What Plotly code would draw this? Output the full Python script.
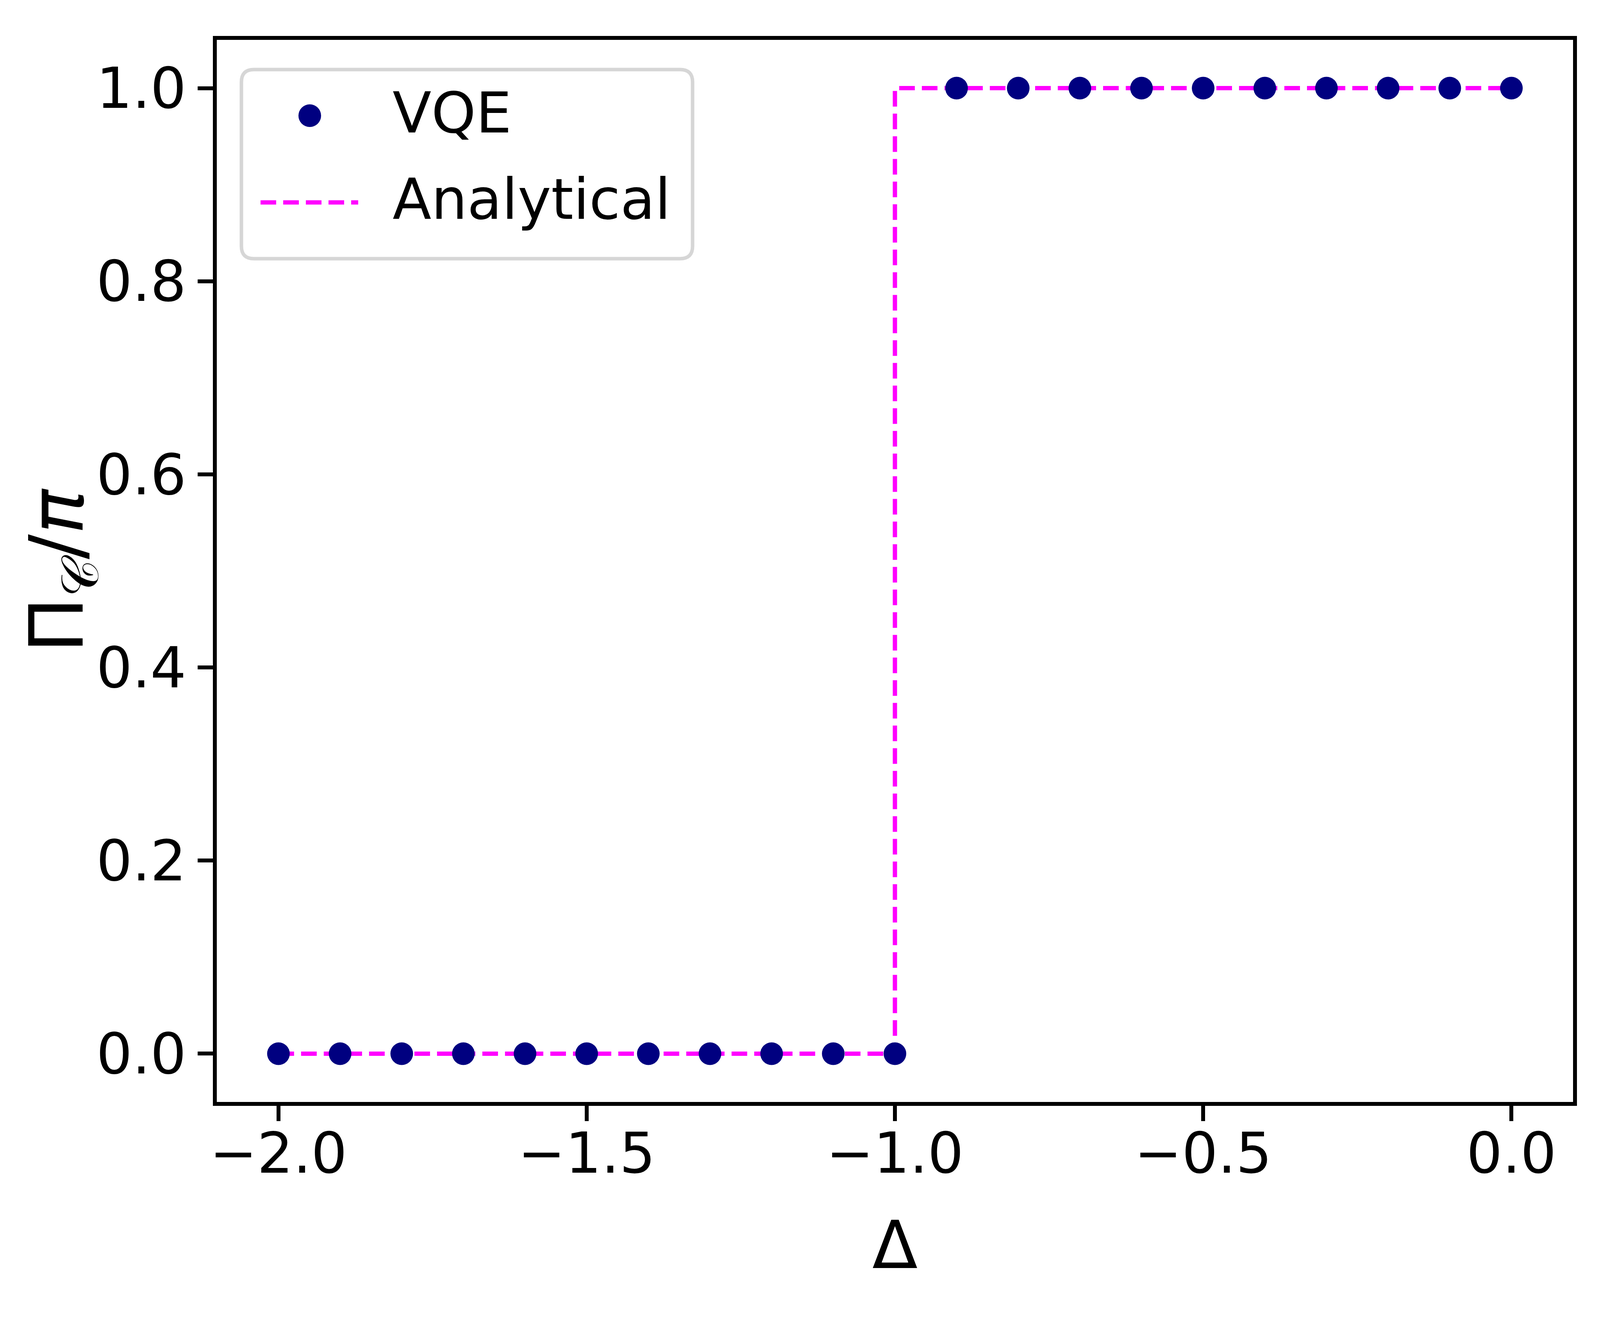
import plotly.graph_objects as go

# ---- data ----
vqe_delta = [-2.0, -1.9, -1.8, -1.7, -1.6, -1.5, -1.4, -1.3, -1.2, -1.1, -1.0,
             -0.9, -0.8, -0.7, -0.6, -0.5, -0.4, -0.3, -0.2, -0.1, 0.0]
vqe_pi = [0, 0, 0, 0, 0, 0, 0, 0, 0, 0, 0,
          1, 1, 1, 1, 1, 1, 1, 1, 1, 1]
analytical_delta = [-2.0, -1.0, -1.0, 0.0]
analytical_pi = [0, 0, 1, 1]
x_ticks = [-2.0, -1.5, -1.0, -0.5, 0.0]
x_tick_labels = ["\u22122.0", "\u22121.5", "\u22121.0", "\u22120.5", "0.0"]
y_ticks = [0.0, 0.2, 0.4, 0.6, 0.8, 1.0]
y_tick_labels = ["0.0", "0.2", "0.4", "0.6", "0.8", "1.0"]
legend_names = ["VQE", "Analytical"]
x_title = "\u0394"
y_title = "\u03a0<sub>\U0001d49e</sub>/<i>\u03c0</i>"

# ---- geometry (browser viewport is 4096 wide; x positions scaled) ----
W, H = 4096, 3378
SX = 4096 / 4938
L, R, T, B = round(660 * SX), round(4845 * SX), 94, 2812
PW, PH = R - L, B - T
FONT = "DejaVu Sans"
NAVY = "#000080"
MAGENTA = "#ff00ff"
DASH = "40px,18px"
TICK_SIZE = 145


def px(x_ref):
    return (x_ref * SX - L) / PW


def pxa(x_abs):
    return (x_abs - L) / PW


def py(y):
    return (B - y) / PH


fig = go.Figure()
fig.add_trace(go.Scatter(x=analytical_delta, y=analytical_pi, mode="lines",
                         name=legend_names[1],
                         line=dict(color=MAGENTA, width=11, dash=DASH),
                         showlegend=False))
fig.add_trace(go.Scatter(x=vqe_delta, y=vqe_pi, mode="markers",
                         name=legend_names[0],
                         marker=dict(color=NAVY, size=58, line=dict(width=0)),
                         showlegend=False))

# ---- legend drawn with shapes / annotations ----
lx0, lx1, ly0, ly1 = 610, 1765, 170, 654
r = 32
rx, ry = r / PW, r / PH
X0, X1, Y0, Y1 = pxa(lx0), pxa(lx1), py(ly1), py(ly0)
path = (f"M{X0 + rx},{Y0} L{X1 - rx},{Y0} Q{X1},{Y0} {X1},{Y0 + ry} "
        f"L{X1},{Y1 - ry} Q{X1},{Y1} {X1 - rx},{Y1} L{X0 + rx},{Y1} "
        f"Q{X0},{Y1} {X0},{Y1 - ry} L{X0},{Y0 + ry} Q{X0},{Y0} {X0 + rx},{Y0} Z")
mcx, mcy, mr = 785, 288, 29
shapes = [
    dict(type="path", xref="paper", yref="paper", path=path,
         fillcolor="rgba(255,255,255,0.8)", line=dict(color="#d6d6d6", width=9)),
    dict(type="line", xref="paper", yref="paper",
         x0=pxa(659), x1=pxa(909), y0=py(510), y1=py(510),
         line=dict(color=MAGENTA, width=11, dash=DASH)),
    dict(type="circle", xref="paper", yref="paper",
         x0=pxa(mcx - mr), x1=pxa(mcx + mr), y0=py(mcy + mr), y1=py(mcy - mr),
         fillcolor=NAVY, line=dict(width=0)),
]
annotations = [
    dict(text=legend_names[0], xref="paper", yref="paper", x=pxa(995), y=py(280),
         xanchor="left", yanchor="middle", showarrow=False,
         font=dict(family=FONT, size=TICK_SIZE, color="black")),
    dict(text=legend_names[1], xref="paper", yref="paper", x=pxa(995), y=py(502),
         xanchor="left", yanchor="middle", showarrow=False,
         font=dict(family=FONT, size=TICK_SIZE, color="black")),
    dict(text=x_title, xref="paper", yref="paper", x=0.5, y=py(3178),
         xanchor="center", yanchor="middle", showarrow=False,
         font=dict(family=FONT, size=170, color="black")),
    dict(text=y_title, xref="paper", yref="paper", x=pxa(150), y=0.5,
         xanchor="center", yanchor="middle", showarrow=False, textangle=-90,
         font=dict(family=FONT, size=190, color="black")),
]

axis_common = dict(showline=True, linecolor="black", linewidth=10, mirror=True,
                   ticks="outside", ticklen=39, tickwidth=10, tickcolor="black",
                   showgrid=False, zeroline=False,
                   tickfont=dict(family=FONT, size=TICK_SIZE, color="black"))

fig.update_layout(
    width=W, height=H, autosize=False,
    margin=dict(l=L, r=W - R, t=T, b=H - B, pad=0),
    paper_bgcolor="white", plot_bgcolor="white",
    xaxis=dict(range=[-2.1, 0.1], tickvals=x_ticks, ticktext=x_tick_labels,
               ticklabelstandoff=-42, **axis_common),
    yaxis=dict(range=[-0.05, 1.05], tickvals=y_ticks, ticktext=y_tick_labels,
               **axis_common),
    shapes=shapes,
    annotations=annotations,
    showlegend=False,
)

fig.write_html("out.html")
